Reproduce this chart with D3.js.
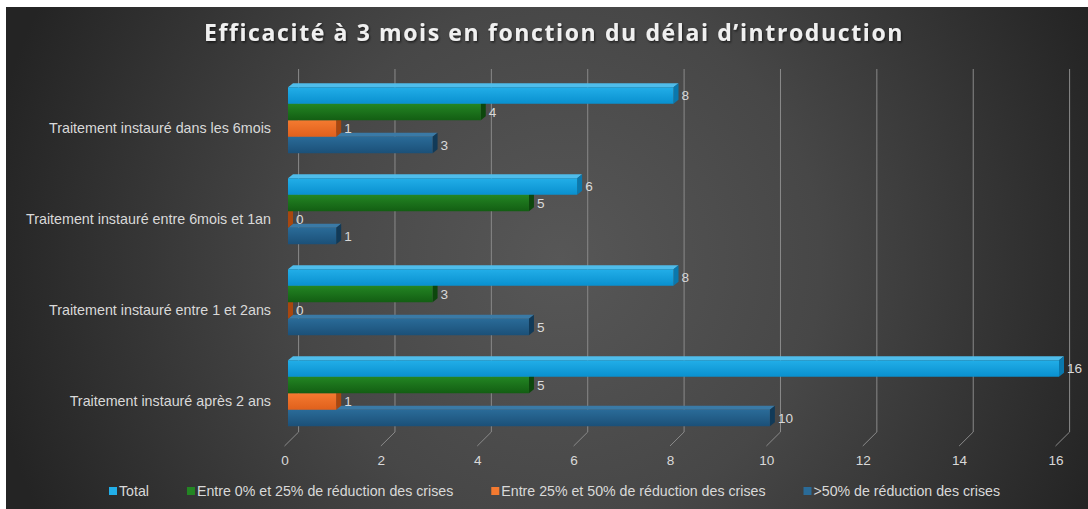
<!DOCTYPE html>
<html>
<head>
<meta charset="utf-8">
<script src="https://cdn.jsdelivr.net/npm/d3@7"></script>
<style>
  html, body { margin: 0; padding: 0; background: #ffffff; }
  svg { display: block; }
  text { font-family: "Liberation Sans", Arial, sans-serif; }
</style>
</head>
<body>
<svg id="chart" width="1088" height="509"></svg>
<script>
// Chart data
const categories = [
  "Traitement instauré dans les 6mois",
  "Traitement instauré entre 6mois et 1an",
  "Traitement instauré entre 1 et 2ans",
  "Traitement instauré après 2 ans"
];
const seriesNames = [
  "Total",
  "Entre 0% et 25% de réduction des crises",
  "Entre 25% et 50% de réduction des crises",
  ">50% de réduction des crises"
];
const totalValues   = [8, 6, 8, 16];
const low25Values   = [4, 5, 3, 5];
const mid50Values   = [1, 0, 0, 1];
const high50Values  = [3, 1, 5, 10];
const xTickValues   = [0, 2, 4, 6, 8, 10, 12, 14, 16];
const titleText = "Efficacité à 3 mois en fonction du délai d’introduction";

const seriesValues = [totalValues, low25Values, mid50Values, high50Values];

// face colours per series: [front top, front bottom, top face, side face]
const palette = [
  ["#22aee8", "#0990cf", "#4fbdeb", "#0a78ad"],
  ["#238523", "#135e13", "#3c9a3c", "#0d470d"],
  ["#f47a30", "#e0601c", "#f79a62", "#a9470f"],
  ["#2a6b98", "#1b5078", "#3a7aa6", "#113a58"]
];

const W = 1088, H = 509;
const svg = d3.select("#chart");
const defs = svg.append("defs");

// background
const bg = defs.append("radialGradient")
  .attr("id", "bgGrad").attr("gradientUnits", "userSpaceOnUse")
  .attr("cx", 560).attr("cy", 260).attr("r", 580);
bg.append("stop").attr("offset", "0").attr("stop-color", "#575757");
bg.append("stop").attr("offset", "0.45").attr("stop-color", "#474747");
bg.append("stop").attr("offset", "1").attr("stop-color", "#242424");
svg.append("rect").attr("x", 6).attr("y", 7).attr("width", W - 6).attr("height", H - 7)
  .attr("fill", "url(#bgGrad)");

palette.forEach((p, i) => {
  const g = defs.append("linearGradient").attr("id", "front" + i)
    .attr("x1", 0).attr("y1", 0).attr("x2", 0).attr("y2", 1);
  g.append("stop").attr("offset", "0").attr("stop-color", p[0]);
  g.append("stop").attr("offset", "1").attr("stop-color", p[1]);
});

const shadow = defs.append("filter").attr("id", "titleShadow")
  .attr("x", "-5%").attr("y", "-30%").attr("width", "110%").attr("height", "160%");
shadow.append("feDropShadow").attr("dx", 1).attr("dy", 1.5).attr("stdDeviation", 1.2)
  .attr("flood-color", "#000").attr("flood-opacity", 0.6);

// title
svg.append("text")
  .attr("x", 554).attr("y", 41)
  .attr("text-anchor", "middle")
  .attr("fill", "#f0f0f0")
  .attr("font-size", 23)
  .attr("font-weight", "bold")
  .attr("letter-spacing", 1.62)
  .style("font-family", "'Open Sans', sans-serif")
  .attr("filter", "url(#titleShadow)")
  .text(titleText);

// scales
const x = d3.scaleLinear().domain([0, 16]).range([288, 1059]);
const y = d3.scaleBand().domain(categories).range([74.75, 438.75])
  .paddingInner(0.2747).paddingOuter(0.1374);
const ySub = d3.scaleBand().domain(d3.range(seriesNames.length)).range([0, y.bandwidth()]);

// 3D geometry
const depthX = 5, depthY = 4;          // bar depth
const backX = 10.6;                    // back wall shift
const floorTop = 432, floorBottom = 446, wallTop = 69;
const floorShift = -3.5;

// gridlines: back wall vertical + floor diagonal
const grid = svg.append("g").attr("stroke", "#8a8a8a").attr("stroke-width", 1).attr("fill", "none");
grid.selectAll("path").data(xTickValues).join("path")
  .attr("d", v => `M${x(v) + backX},${wallTop} L${x(v) + backX},${floorTop} L${x(v) + floorShift},${floorBottom}`);

// x axis labels
const axis = svg.append("g")
  .attr("transform", `translate(${floorShift},455)`)
  .call(d3.axisBottom(x).tickValues(xTickValues).tickSize(0).tickPadding(0).tickFormat(d3.format("d")));
axis.select(".domain").remove();
axis.selectAll("text").attr("fill", "#d9d9d9").attr("font-size", 13.6)
  .style("font-family", "'Liberation Sans', Arial, sans-serif");

// category labels
svg.append("g").selectAll("text").data(categories).join("text")
  .attr("x", 271)
  .attr("y", d => y(d) + y.bandwidth() / 2 + 8)
  .attr("dy", "0.35em")
  .attr("text-anchor", "end")
  .attr("fill", "#d9d9d9")
  .attr("font-size", 14.3)
  .text(d => d);

// bars
const bars = svg.append("g");
categories.forEach((cat, ci) => {
  // lower bars first so the bar above covers their top faces
  for (let si = seriesNames.length - 1; si >= 0; si--) {
    const v = seriesValues[si][ci];
    const x0 = x(0), x1 = x(v);
    const y0 = y(cat) + ySub(si), h = ySub.bandwidth();
    const p = palette[si];
    const g = bars.append("g");
    g.append("path")
      .attr("d", `M${x0},${y0} L${x0 + depthX},${y0 - depthY} L${x1 + depthX},${y0 - depthY} L${x1},${y0} Z`)
      .attr("fill", p[2]);
    g.append("path")
      .attr("d", `M${x1},${y0} L${x1 + depthX},${y0 - depthY} L${x1 + depthX},${y0 + h - depthY} L${x1},${y0 + h} Z`)
      .attr("fill", p[3]);
    g.append("rect")
      .attr("x", x0).attr("y", y0).attr("width", x1 - x0).attr("height", h)
      .attr("fill", `url(#front${si})`);
    g.append("text")
      .attr("x", x1 + depthX + 3)
      .attr("y", y0 + h / 2)
      .attr("dy", "0.35em")
      .attr("fill", "#d9d9d9")
      .attr("font-size", 13.6)
      .text(v);
  }
});

// legend: items laid out one after another from their text widths
const legend = svg.append("g").attr("transform", "translate(109,491)");
let cursor = 0;
seriesNames.forEach((name, i) => {
  const item = legend.append("g").attr("transform", `translate(${cursor},0)`);
  item.append("rect").attr("x", 0).attr("y", -4).attr("width", 8).attr("height", 8)
    .attr("fill", palette[i][0]);
  const t = item.append("text").attr("x", 10).attr("y", 0).attr("dy", "0.35em")
    .attr("fill", "#d9d9d9").attr("font-size", 14.2).text(name);
  cursor += 10 + t.node().getComputedTextLength() + 38;
});
</script>
</body>
</html>
